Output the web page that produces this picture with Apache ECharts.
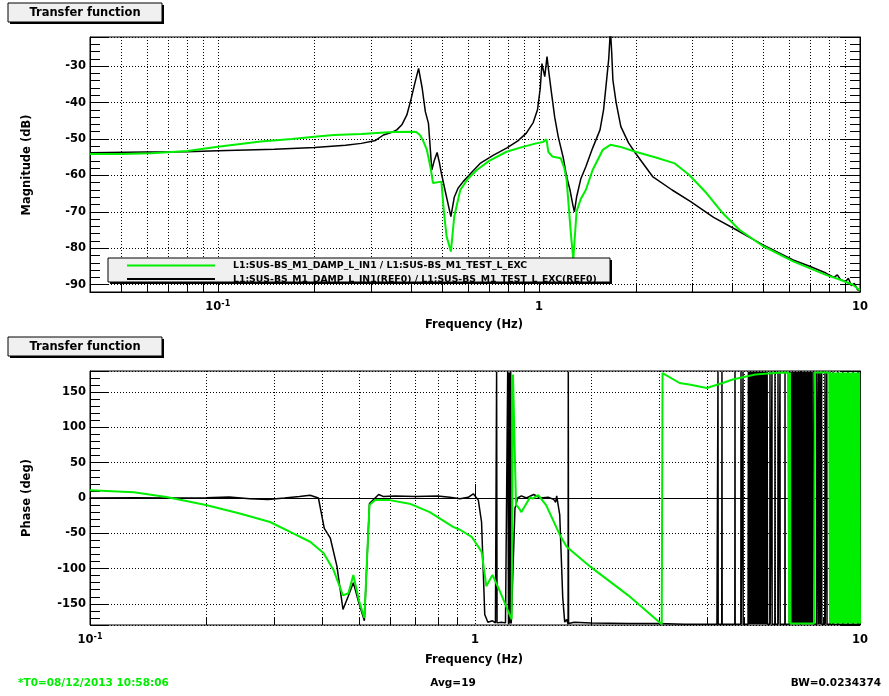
<!DOCTYPE html>
<html><head><meta charset="utf-8">
<script src="https://cdn.jsdelivr.net/npm/echarts@6/dist/echarts.min.js"></script>
<style>html,body{margin:0;padding:0;background:#fff}#c{width:889px;height:696px}</style>
</head><body><div id="c"></div>
<script>
// ---------------- data ----------------
const seriesNames = [
  'L1:SUS-BS_M1_DAMP_L_IN1 / L1:SUS-BS_M1_TEST_L_EXC',
  'L1:SUS-BS_M1_DAMP_L_IN1(REF0) / L1:SUS-BS_M1_TEST_L_EXC(REF0)'
];
const panelTitle = 'Transfer function';
const magAxisName = 'Magnitude (dB)';
const phaseAxisName = 'Phase (deg)';
const freqAxisName = 'Frequency (Hz)';
const footerLeft = '*T0=08/12/2013 10:58:06';
const footerMid = 'Avg=19';
const footerRight = 'BW=0.0234374';

const magRange = [-92, -22];
const phaseRange = [-180, 180];
const magFreqRange = [0.04, 10];
const phaseFreqRange = [0.1, 10];

// minor log gridlines (2..9 x decade)
const magMinorFreqs = [0.05,0.06,0.07,0.08,0.09,0.2,0.3,0.4,0.5,0.6,0.7,0.8,0.9,2,3,4,5,6,7,8,9];
const phaseMinorFreqs = [0.2,0.3,0.4,0.5,0.6,0.7,0.8,0.9,2,3,4,5,6,7,8,9];

// magnitude, reference (black)
const magRef = [[0.04,-53.8],[0.06,-53.6],[0.08,-53.5],[0.1,-53.2],[0.15,-52.8],[0.2,-52.3],[0.25,-51.7],[0.28,-51.2],[0.31,-50.4],[0.328,-48.9],[0.345,-48.3],[0.361,-47.5],[0.375,-46],[0.388,-43.4],[0.4,-39],[0.41,-35],[0.422,-30.6],[0.433,-36],[0.443,-42.5],[0.453,-45.7],[0.464,-58.5],[0.472,-56],[0.482,-53.7],[0.49,-56.5],[0.497,-59.4],[0.51,-64],[0.532,-71.3],[0.545,-66],[0.56,-63.5],[0.581,-61.7],[0.62,-59],[0.656,-56.7],[0.72,-54.5],[0.793,-52.5],[0.86,-50.5],[0.914,-48.4],[0.96,-45.5],[0.99,-42],[1.01,-36],[1.022,-29.3],[1.043,-32.9],[1.06,-27.4],[1.075,-32],[1.095,-37.5],[1.12,-44],[1.149,-49.4],[1.19,-55],[1.22,-60.3],[1.25,-64],[1.275,-68],[1.29,-70],[1.31,-66],[1.35,-61],[1.4,-57.6],[1.47,-52.5],[1.55,-47.5],[1.59,-42],[1.62,-35],[1.65,-28],[1.67,-20],[1.685,-26],[1.7,-33.8],[1.74,-40],[1.8,-46.6],[1.9,-51],[2,-53.9],[2.26,-60.3],[2.6,-64],[2.97,-67.2],[3.5,-71.5],[4.21,-75.4],[4.97,-79],[6.19,-83.2],[7,-85],[7.83,-86.8],[8.3,-88],[8.5,-87.3],[8.7,-88.6],[9.03,-89.1],[9.2,-88.2],[9.4,-90.3],[9.6,-89.6],[9.83,-91.4],[10,-91.6]];

// magnitude, current (green)
const magCur = [[0.04,-54.1],[0.05,-54.1],[0.062,-53.9],[0.0805,-53.3],[0.1,-52.1],[0.136,-50.7],[0.17,-50],[0.2,-49.4],[0.23,-48.9],[0.28,-48.6],[0.35,-48.1],[0.406,-48],[0.415,-48.1],[0.426,-48.9],[0.436,-50.5],[0.448,-53],[0.46,-58],[0.468,-62.1],[0.497,-61.7],[0.506,-70],[0.516,-76.8],[0.532,-80.9],[0.545,-71.3],[0.569,-64],[0.6,-61],[0.641,-58.5],[0.7,-56],[0.793,-53.5],[0.88,-52.3],[0.98,-51.2],[1.03,-50.8],[1.056,-50.1],[1.07,-53.5],[1.1,-54.8],[1.17,-55.3],[1.2,-58],[1.22,-61.2],[1.26,-76.8],[1.28,-83],[1.31,-69.9],[1.35,-66.5],[1.4,-64],[1.47,-58.5],[1.58,-53],[1.67,-51.6],[1.785,-52.1],[2,-53.5],[2.3,-55],[2.65,-56.7],[2.94,-59.9],[3.33,-64.9],[3.74,-70.4],[4.21,-74.9],[4.97,-79.3],[6.19,-83.6],[7.83,-87.3],[8.6,-88.5],[9.5,-90],[10,-91.6]];

// phase, reference (black): smooth part
const phaseRef = [[0.1,0],[0.13,0.5],[0.16,0],[0.2,0.5],[0.23,1.5],[0.26,-1],[0.29,-2],[0.32,0],[0.35,2],[0.373,4],[0.392,0],[0.406,-43],[0.421,-57],[0.438,-97],[0.454,-158],[0.468,-140],[0.483,-120],[0.5,-150],[0.516,-174],[0.532,-8],[0.562,5],[0.579,2],[0.62,3],[0.7,2],[0.8,3],[0.86,1],[0.914,-1],[0.96,1],[0.99,6],[1.02,-3],[1.04,-34],[1.06,-165],[1.08,-176],[1.11,-174],[1.13,-177],[1.136,-179],[1.138,179],[1.141,-177],[1.17,-176],[1.2,-177],[1.213,-179],[1.216,179],[1.222,-179],[1.227,178],[1.233,-178],[1.238,179],[1.242,-178],[1.255,-176],[1.27,-15],[1.29,0],[1.32,3],[1.36,0],[1.42,5],[1.48,0],[1.55,1],[1.6,-2],[1.62,-6],[1.63,3],[1.66,-24],[1.69,-141],[1.71,-176],[1.73,-172],[1.745,-179],[1.747,179],[1.75,-178],[1.81,-176],[2,-177],[2.5,-178],[3,-178],[3.5,-179],[4.25,-179]];
// phase, reference (black): wrapped noisy part above ~4.2 Hz
const phaseRefNoise = [[4.272,-179],[4.277,179],[4.282,-179],[4.375,-179],[4.38,179],[4.385,-179],[4.73,-179],[4.735,179],[4.74,-179],[4.903,-179],[4.908,179],[4.913,-179],[4.963,-179],[4.968,179],[4.973,-179],
[5.119,-179],[5.13,179],[5.14,-179],[5.152,179],[5.165,-179],[5.178,179],[5.19,-179],[5.2,179],[5.212,-179],[5.223,179],[5.235,-179],[5.247,179],[5.259,-179],[5.27,179],[5.28,-179],[5.293,179],[5.306,-179],[5.318,179],[5.33,-179],[5.342,179],[5.354,-179],[5.367,179],[5.38,-179],[5.391,179],[5.402,-179],[5.416,179],[5.43,-179],[5.44,179],[5.451,-179],[5.463,179],[5.475,-179],[5.487,179],[5.5,-179],[5.512,179],[5.525,-179],[5.537,179],[5.55,-179],[5.562,179],[5.575,-179],[5.587,179],[5.6,-179],[5.612,179],[5.625,-179],[5.637,179],[5.65,-179],[5.662,179],[5.675,-179],[5.688,179],[5.701,-179],[5.713,179],[5.725,-179],[5.739,179],[5.753,-179],
[5.831,-179],[5.837,179],[5.843,-179],[5.901,-179],[5.907,179],[5.913,-179],[6.009,-179],[6.015,179],[6.021,-179],[6.118,-179],[6.124,179],[6.13,-179],[6.192,-179],[6.198,179],[6.204,-179],[6.38,-179],[6.386,179],[6.392,-179],
[6.55,-179],[6.565,179],[6.58,-179],[6.595,179],[6.61,-179],[6.625,179],[6.639,-179],[6.655,179],[6.67,-179],[6.685,179],[6.699,-179],[6.715,179],[6.73,-179],[6.745,179],[6.759,-179],[6.775,179],[6.79,-179],[6.805,179],[6.82,-179],[6.835,179],[6.85,-179],[6.865,179],[6.881,-179],[6.895,179],[6.91,-179],[6.927,179],[6.943,-179],[6.957,179],[6.97,-179],[6.988,179],[7.006,-179],[7.023,179],[7.04,-179],[7.055,179],[7.069,-179],[7.085,179],[7.1,-179],[7.117,179],[7.133,-179],[7.15,179],[7.165,-179],[7.181,179],[7.197,-179],[7.213,179],[7.23,-179],[7.246,179],[7.262,-179],[7.278,179],[7.295,-179],[7.311,179],[7.327,-179],[7.343,179],[7.36,-179],[7.376,179],[7.393,-179],[7.41,179],[7.43,-179],[7.445,179],[7.46,-179],[7.475,179],[7.49,-179],[7.51,179],[7.527,-179],
[7.59,-179],[7.6,179],[7.61,-179],[7.71,-179],[7.72,179],[7.73,-179],[7.79,-179],[7.8,179],[7.81,-179],[7.864,-179],[7.874,179],[7.884,-179],[7.94,-179],[7.95,179],[7.96,-179],[8.1,-179],[8.111,179],[8.122,-179],[8.19,-179],[8.2,179],[8.21,-179],[8.346,-179],[8.357,179],[8.368,-179],[8.497,-179],[8.508,179],[8.519,-179],[8.76,-179],[8.77,179],[8.78,-179],[9.02,-179],[9.03,179],[9.04,-179],[9.297,-179],[9.307,179],[9.317,-179],[9.58,-179],[9.59,179],[9.6,-179],[9.87,-179],[9.88,179],[9.89,-179],[10,-179]];

// phase, current (green): smooth part
const phaseCur = [[0.1,11],[0.13,8],[0.158,1.5],[0.2,-10],[0.245,-22],[0.2935,-34],[0.337,-50],[0.373,-62],[0.404,-78],[0.429,-102],[0.454,-138],[0.469,-135],[0.483,-109],[0.5,-146],[0.516,-170],[0.532,-10],[0.55,-3],[0.6,-3],[0.676,-8],[0.763,-20],[0.877,-41],[0.914,-45],[0.98,-55],[1.04,-76],[1.07,-125],[1.11,-109],[1.16,-132],[1.245,-172],[1.255,175],[1.278,-10],[1.296,-13],[1.32,-20],[1.39,1],[1.41,-1],[1.46,4],[1.53,-10],[1.66,-52],[1.73,-69],[2,-98],[2.5,-138],[3.055,-179],[3.07,177],[3.4,163],[3.6,161],[4,156],[4.4,163],[4.67,168],[5.35,175],[6,177],[6.5,178]];
// phase, current (green): wrapped noisy part above ~6.5 Hz
const phaseCurNoise = [[6.52,178],[6.55,-178],[6.58,178],[6.6,-178],[7.595,-178],[7.64,178],[8.32,178],[8.357,-178],[8.39,178],[8.432,-178],[8.47,178],[8.508,-178],[8.545,178],[8.585,-178],[8.62,178],[8.662,-178],[8.7,178],[8.74,-178],[8.78,178],[8.819,-178],[8.86,178],[8.898,-178],[8.94,178],[8.978,-178],[9.02,178],[9.059,-178],[9.1,178],[9.141,-178],[9.18,178],[9.223,-178],[9.265,178],[9.307,-178],[9.35,178],[9.39,-178],[9.43,178],[9.475,-178],[9.52,178],[9.56,-178],[9.6,178],[9.646,-178],[9.69,178],[9.733,-178],[9.78,178],[9.821,-178],[9.865,178],[9.909,-178],[9.95,178],[10,-178]];

// ---------------- styling ----------------
const FONT = 'DejaVu Sans';
const GREEN = '#00ee00';
const BLACK = '#000000';

function xLabel(v) {
  if (Math.abs(v - 0.1) < 1e-6) return '{m|10}{s|-1}';
  if (Math.abs(v - 1) < 1e-6) return '{m|1}';
  if (Math.abs(v - 10) < 1e-6) return '{m|10}';
  return '';
}
const xRich = {
  m: {fontFamily: FONT, fontWeight: 'bold', fontSize: 11.5, lineHeight: 15, color: '#000'},
  s: {fontFamily: FONT, fontWeight: 'bold', fontSize: 8, lineHeight: 9, verticalAlign: 'top', color: '#000'}
};

function xAx(gridIndex, range) {
  return {
    type: 'log', logBase: 10, gridIndex, min: range[0], max: range[1],
    axisLine: {show: true, lineStyle: {color: '#000', width: 1}},
    axisTick: {show: true, inside: true, length: 14, lineStyle: {color: '#000'}},
    axisLabel: {formatter: xLabel, rich: xRich, margin: 8, color: '#000'},
    splitLine: {show: true, lineStyle: {color: '#000', type: [1, 2], width: 1}}
  };
}
function yAx(gridIndex, range, right) {
  return {
    type: 'value', gridIndex, min: range[0], max: range[1], splitNumber: 7,
    position: right ? 'right' : 'left',
    axisLine: {show: true, lineStyle: {color: '#000', width: 1}},
    axisTick: {show: true, inside: true, length: 19, lineStyle: {color: '#000'}},
    minorTick: {show: true, splitNumber: 5, length: 10, lineStyle: {color: '#000'}},
    axisLabel: {show: !right, margin: 4, fontFamily: FONT, fontWeight: 'bold', fontSize: 11.5, color: '#000',
      showMinLabel: false, showMaxLabel: false},
    splitLine: {show: !right, lineStyle: {color: '#000', type: [1, 2], width: 1}},
    minorSplitLine: {show: false}
  };
}

function minorRender(params, api) {
  const cs = params.coordSys;
  const x = Math.round(api.coord([api.value(0), api.value(1)])[0]) + 0.5;
  const top = cs.y, bot = cs.y + cs.height;
  return {type: 'group', children: [
    {type: 'line', shape: {x1: x, y1: top, x2: x, y2: bot}, style: {stroke: '#000', lineWidth: 1, lineDash: [1, 2]}},
    {type: 'line', shape: {x1: x, y1: bot, x2: x, y2: bot - 8}, style: {stroke: '#000', lineWidth: 1}}
  ]};
}

function lineSeries(name, data, xi, yi, color, width, z) {
  return {type: 'line', name, data, xAxisIndex: xi, yAxisIndex: yi, showSymbol: false, symbol: 'none',
    clip: true, z, lineStyle: {color, width}, itemStyle: {color}, animation: false};
}

function titleBox(y) {
  return [
    {type: 'rect', shape: {x: 10, y: y + 2, width: 154, height: 19}, style: {fill: '#000'}, z: 100},
    {type: 'rect', shape: {x: 8, y: y, width: 154, height: 19}, style: {fill: '#f0f0f0', stroke: '#000', lineWidth: 1}, z: 101},
    {type: 'text', x: 85, y: y + 10, z: 102, style: {text: panelTitle, fontFamily: FONT, fontWeight: 'bold', fontSize: 11.5,
      fill: '#000', align: 'center', verticalAlign: 'middle', textAlign: 'center', textVerticalAlign: 'middle'}}
  ];
}
function txt(text, x, y, opts) {
  return Object.assign({type: 'text', x, y, z: 102, style: Object.assign({text, fontFamily: FONT, fontWeight: 'bold', fontSize: 11.5,
    fill: '#000', align: 'center', verticalAlign: 'middle', textAlign: 'center', textVerticalAlign: 'middle'}, opts && opts.style || {})},
    opts && opts.rotation ? {rotation: opts.rotation} : {});
}

const legendEls = [
  {type: 'rect', shape: {x: 110, y: 260, width: 502, height: 24}, style: {fill: '#000'}, z: 100},
  {type: 'rect', shape: {x: 108, y: 258, width: 502, height: 24}, style: {fill: '#f0f0f0', stroke: '#000', lineWidth: 1}, z: 101},
  {type: 'line', shape: {x1: 127, y1: 265.5, x2: 215, y2: 265.5}, style: {stroke: GREEN, lineWidth: 2}, z: 102},
  {type: 'line', shape: {x1: 127, y1: 279, x2: 215, y2: 279}, style: {stroke: BLACK, lineWidth: 2}, z: 102},
  txt(seriesNames[0], 233, 265.5, {style: {fontSize: 9.3, align: 'left', textAlign: 'left'}}),
  txt(seriesNames[1], 233, 279.5, {style: {fontSize: 9.3, align: 'left', textAlign: 'left'}})
];

const chart = echarts.init(document.getElementById('c'), null, {renderer: 'canvas'});
chart.setOption({
  animation: false,
  backgroundColor: '#fff',
  grid: [
    {left: 90, top: 37, width: 770, height: 255, show: true, borderColor: '#000', borderWidth: 1, backgroundColor: 'transparent', containLabel: false, outerBoundsMode: 'none'},
    {left: 90, top: 371, width: 770, height: 254, show: true, borderColor: '#000', borderWidth: 1, backgroundColor: 'transparent', containLabel: false, outerBoundsMode: 'none'}
  ],
  xAxis: [xAx(0, magFreqRange), xAx(1, phaseFreqRange)],
  yAxis: [yAx(0, magRange, false), yAx(0, magRange, true), yAx(1, phaseRange, false), yAx(1, phaseRange, true)],
  series: [
    {type: 'custom', xAxisIndex: 0, yAxisIndex: 0, data: magMinorFreqs.map(f => [f, -50]), renderItem: minorRender, silent: true, z: 1, animation: false},
    {type: 'custom', xAxisIndex: 1, yAxisIndex: 2, data: phaseMinorFreqs.map(f => [f, 0]), renderItem: minorRender, silent: true, z: 1, animation: false},
    lineSeries(seriesNames[1], magRef, 0, 0, BLACK, 1.5, 3),
    lineSeries(seriesNames[0], magCur, 0, 0, GREEN, 2, 4),
    lineSeries(seriesNames[1], phaseRef.concat(phaseRefNoise), 1, 2, BLACK, 1.5, 3),
    lineSeries(seriesNames[0], phaseCur.concat(phaseCurNoise), 1, 2, GREEN, 2, 4)
  ],
  graphic: {elements: [].concat(
    titleBox(3), titleBox(337), legendEls,
    [
      txt(magAxisName, 27, 165, {rotation: Math.PI / 2}),
      txt(phaseAxisName, 27, 498, {rotation: Math.PI / 2}),
      txt(freqAxisName, 474, 325),
      txt(freqAxisName, 474, 660),
      txt(footerLeft, 18, 683, {style: {fill: GREEN, fontSize: 10.5, align: 'left', textAlign: 'left'}}),
      txt(footerMid, 453, 683, {style: {fontSize: 10.5}}),
      txt(footerRight, 881, 683, {style: {fontSize: 10.5, align: 'right', textAlign: 'right'}})
    ]
  )}
});
</script>
</body></html>
